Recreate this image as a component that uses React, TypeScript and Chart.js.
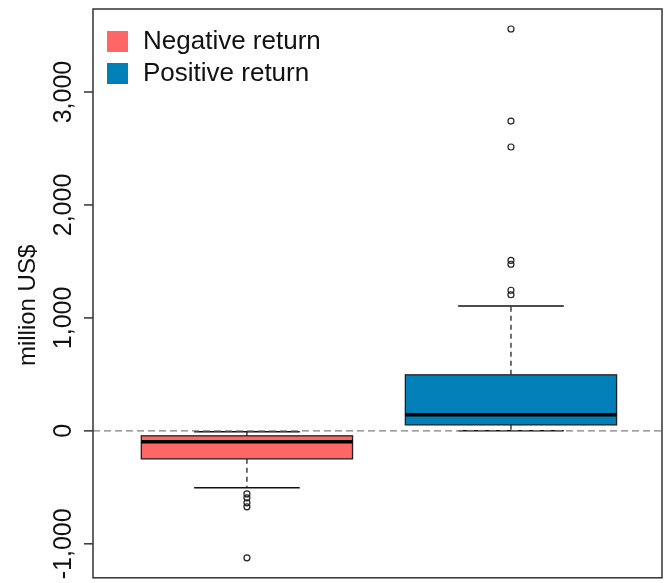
import React, { useEffect, useRef } from "react";
import { Chart, registerables } from "chart.js";

Chart.register(...registerables);

const categories = ["Negative return", "Positive return"];
const boxColors = ["#FF6666", "#0080B7"];
const whiskerLow = [-504, 0];
const quartile1 = [-248, 53];
const medians = [-97, 142];
const quartile3 = [-44, 496];
const whiskerHigh = [-9, 1106];
const negativeOutliers = [-558, -593, -637, -673, -1124];
const positiveOutliers = [1205, 1245, 1475, 1510, 2513, 2743, 3558];
const yTicks = [-1000, 0, 1000, 2000, 3000];
const yTickLabels = ["-1,000", "0", "1,000", "2,000", "3,000"];
const yTitle = "million US$";

const FONT = "'Liberation Sans', Arial, Helvetica, sans-serif";

const boxPlugin = {
  id: "boxplotDraw",
  beforeDatasetsDraw(chart: any) {
    const ctx = chart.ctx;
    const xs = chart.scales.x;
    const ys = chart.scales.y;
    const area = chart.chartArea;
    const boxHalf = 0.4;
    const capHalf = 0.2;
    ctx.save();
    categories.forEach((_, i) => {
      const cx = xs.getPixelForValue(i + 1);
      const left = xs.getPixelForValue(i + 1 - boxHalf);
      const right = xs.getPixelForValue(i + 1 + boxHalf);
      const capL = xs.getPixelForValue(i + 1 - capHalf);
      const capR = xs.getPixelForValue(i + 1 + capHalf);
      const yLo = ys.getPixelForValue(whiskerLow[i]);
      const yQ1 = ys.getPixelForValue(quartile1[i]);
      const yMed = ys.getPixelForValue(medians[i]);
      const yQ3 = ys.getPixelForValue(quartile3[i]);
      const yHi = ys.getPixelForValue(whiskerHigh[i]);
      // whiskers (dashed)
      ctx.strokeStyle = "#111";
      ctx.lineWidth = 1.2;
      ctx.setLineDash([5, 4]);
      ctx.beginPath();
      ctx.moveTo(cx, yQ3);
      ctx.lineTo(cx, yHi);
      ctx.moveTo(cx, yQ1);
      ctx.lineTo(cx, yLo);
      ctx.stroke();
      ctx.setLineDash([]);
      // caps
      ctx.lineWidth = 1.5;
      ctx.beginPath();
      ctx.moveTo(capL, yHi);
      ctx.lineTo(capR, yHi);
      ctx.moveTo(capL, yLo);
      ctx.lineTo(capR, yLo);
      ctx.stroke();
      // box
      ctx.fillStyle = boxColors[i];
      ctx.fillRect(left, yQ3, right - left, yQ1 - yQ3);
      ctx.lineWidth = 1.3;
      ctx.strokeStyle = "#222";
      ctx.strokeRect(left, yQ3, right - left, yQ1 - yQ3);
      // median
      ctx.lineWidth = 3.5;
      ctx.strokeStyle = "#000";
      ctx.beginPath();
      ctx.moveTo(left, yMed);
      ctx.lineTo(right, yMed);
      ctx.stroke();
    });
    // zero reference line
    const y0 = ys.getPixelForValue(0);
    ctx.strokeStyle = "#808080";
    ctx.lineWidth = 1.2;
    ctx.setLineDash([7, 4]);
    ctx.beginPath();
    ctx.moveTo(area.left, y0);
    ctx.lineTo(area.right, y0);
    ctx.stroke();
    ctx.setLineDash([]);
    ctx.restore();
  },
  afterDraw(chart: any) {
    const ctx = chart.ctx;
    const ys = chart.scales.y;
    const area = chart.chartArea;
    ctx.save();
    // frame
    ctx.strokeStyle = "#333";
    ctx.lineWidth = 1.5;
    ctx.strokeRect(area.left, area.top, area.right - area.left, area.bottom - area.top);
    // ticks and labels
    ctx.fillStyle = "#111";
    ctx.font = `25px ${FONT}`;
    ctx.textAlign = "center";
    ctx.textBaseline = "middle";
    yTicks.forEach((v, i) => {
      const y = ys.getPixelForValue(v);
      ctx.beginPath();
      ctx.moveTo(area.left - 9, y);
      ctx.lineTo(area.left, y);
      ctx.stroke();
      ctx.save();
      ctx.translate(63, y);
      ctx.rotate(-Math.PI / 2);
      ctx.fillText(yTickLabels[i], 0, 1);
      ctx.restore();
    });
    // axis title
    ctx.save();
    ctx.font = `24px ${FONT}`;
    ctx.translate(28, (area.top + area.bottom) / 2 + 12);
    ctx.rotate(-Math.PI / 2);
    ctx.fillText(yTitle, 0, 0);
    ctx.restore();
    // legend
    ctx.font = `26px ${FONT}`;
    ctx.textAlign = "left";
    categories.forEach((c, i) => {
      const top = area.top + 22 + i * 32;
      ctx.fillStyle = boxColors[i];
      ctx.fillRect(area.left + 14, top, 21, 21);
      ctx.fillStyle = "#111";
      ctx.fillText(c, area.left + 50, top + 11);
    });
    ctx.restore();
  },
};

export default function App() {
  const ref = useRef<HTMLCanvasElement | null>(null);
  useEffect(() => {
    if (!ref.current) return;
    const outlierPoints = [
      ...negativeOutliers.map((v) => ({ x: 1, y: v })),
      ...positiveOutliers.map((v) => ({ x: 2, y: v })),
    ];
    const chart = new Chart(ref.current, {
      type: "scatter",
      data: {
        datasets: [
          {
            label: "outliers",
            data: outlierPoints,
            pointStyle: "circle",
            pointRadius: 3,
            pointBorderWidth: 1.2,
            borderColor: "#222",
            backgroundColor: "rgba(0,0,0,0)",
          } as any,
        ],
      },
      options: {
        responsive: false,
        animation: false,
        layout: { padding: { left: 93, top: 9, right: 7, bottom: 5 } },
        plugins: { legend: { display: false }, tooltip: { enabled: false } },
        scales: {
          x: { type: "linear", min: 0.417, max: 2.572, display: false },
          y: { type: "linear", min: -1301, max: 3735, display: false },
        },
      },
      plugins: [boxPlugin],
    });
    return () => chart.destroy();
  }, []);
  return (
    <div style={{ position: "fixed", left: 0, top: 0, width: 669, height: 583, background: "#fff" }}>
      <canvas ref={ref} width={669} height={583} />
    </div>
  );
}
